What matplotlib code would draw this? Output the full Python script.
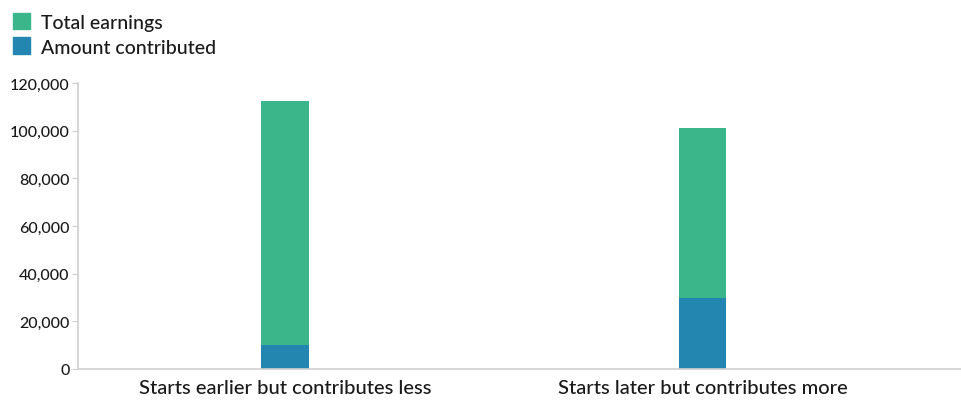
import matplotlib
matplotlib.use("Agg")
import matplotlib.pyplot as plt
from matplotlib.patches import Patch
from matplotlib.ticker import FuncFormatter

# chart values
categories = ["Starts earlier but contributes less", "Starts later but contributes more"]
contributed = [10000, 30000]
earnings = [102500, 71000]
series_names = ["Total earnings", "Amount contributed"]
yticks = [0, 20000, 40000, 60000, 80000, 100000, 120000]

green = "#3bb68a"
blue = "#2386b0"
axis_grey = "#d0d0d0"
text_col = "#1a1a1a"

plt.rcParams["font.family"] = ["Lato", "DejaVu Sans"]

fig = plt.figure(figsize=(9.62, 4.02), dpi=100)
ax = fig.add_axes([78 / 962, 32 / 402, 1 - 78 / 962, (370 - 84) / 402])

x = list(range(len(categories)))
ax.bar(x, contributed, width=0.113, color=blue, zorder=2)
ax.bar(x, earnings, width=0.113, bottom=contributed, color=green, zorder=2)

ax.set_xlim(-0.495, 1.62)
ax.set_ylim(0, 120000)
ax.set_yticks(yticks)
ax.yaxis.set_major_formatter(FuncFormatter(lambda v, p: f"{int(v):,}"))
ax.set_xticks(x)
ax.set_xticklabels(categories, fontsize=14.5, color=text_col, fontweight="medium")

for s in ["top", "right"]:
    ax.spines[s].set_visible(False)
for s in ["left", "bottom"]:
    ax.spines[s].set_color(axis_grey)
    ax.spines[s].set_linewidth(1.2)
ax.tick_params(axis="y", length=4, color=axis_grey, labelsize=11.5, labelcolor=text_col, pad=2)
for lab in ax.get_yticklabels():
    lab.set_fontweight("medium")
ax.tick_params(axis="x", length=0, pad=7)

handles = [Patch(color=green), Patch(color=blue)]
fig.legend(handles, series_names, loc="upper left", bbox_to_anchor=(-0.001, 1.0),
           frameon=False, prop={"size": 14, "weight": "medium"}, labelcolor=text_col,
           handlelength=0.9, handleheight=0.95, handletextpad=0.55,
           labelspacing=0.35, borderaxespad=0.3)

fig.savefig("out.png", dpi=100)
